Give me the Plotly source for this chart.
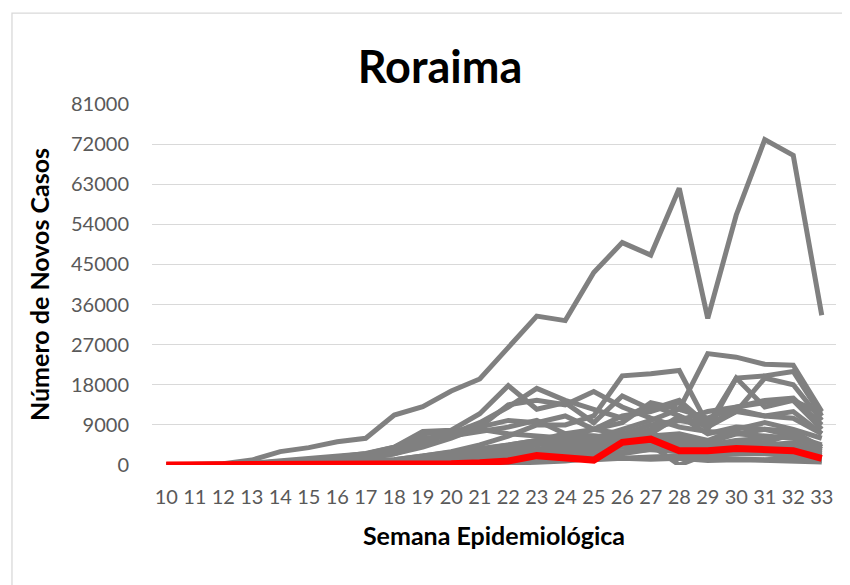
import plotly.graph_objects as go

semanas = list(range(10, 34))

# novos casos por semana epidemiológica (semanas 10 a 33), demais estados em cinza
SP = [0, 50, 300, 1100, 3000, 3900, 5200, 6000, 11200, 13100, 16600, 19300, 26500, 33400, 32400, 43200, 49900, 47100, 62100, 32900, 56100, 73000, 69500, 33600]
RJ = [0, 20, 150, 400, 900, 1500, 2000, 2500, 4000, 7500, 7800, 11500, 17800, 12500, 14000, 9500, 15500, 12500, 14500, 9000, 12500, 11000, 12000, 7000]
CE = [0, 10, 150, 350, 700, 1000, 1600, 2200, 3000, 5500, 7000, 9500, 13000, 17200, 14500, 12500, 10500, 13500, 11000, 7000, 8500, 8000, 7500, 4000]
BA = [0, 5, 40, 100, 200, 300, 500, 800, 1200, 2000, 3000, 4500, 6500, 9000, 9000, 11000, 20000, 20500, 21200, 9000, 19500, 20000, 21000, 11000]
MG = [0, 10, 50, 100, 200, 250, 350, 500, 700, 1000, 1500, 2500, 3500, 5000, 6500, 8000, 9500, 14000, 12500, 25000, 24200, 22600, 22400, 12000]
PA = [0, 0, 20, 80, 200, 400, 800, 1400, 2500, 4500, 7500, 8500, 13500, 14500, 13500, 16500, 13000, 10500, 8500, 7500, 7000, 8000, 6500, 4500]
AM = [0, 0, 50, 150, 500, 1000, 1800, 2600, 4000, 7000, 7500, 8000, 7000, 6500, 6000, 4500, 5000, 4000, 3500, 3000, 2500, 3000, 3500, 2500]
PE = [0, 10, 30, 80, 300, 700, 1200, 2000, 3500, 6000, 6500, 7500, 8500, 10000, 7000, 6500, 6000, 5500, 6000, 3000, 5500, 5000, 7000, 3500]
MA = [0, 0, 10, 50, 150, 300, 800, 1500, 2500, 4000, 6000, 8500, 10000, 9500, 11000, 8000, 7000, 6000, 5500, 4000, 4500, 4000, 3500, 2500]
GO = [0, 5, 20, 50, 80, 100, 150, 200, 300, 500, 800, 1200, 2000, 3000, 4500, 6000, 8000, 10000, 12500, 10500, 13000, 14500, 15000, 9000]
DF = [0, 10, 50, 150, 200, 300, 400, 500, 700, 1000, 1500, 2500, 3500, 5000, 7000, 8000, 11000, 12000, 14000, 8000, 19500, 13000, 14500, 8000]
ES = [0, 5, 20, 60, 150, 250, 400, 700, 1200, 2000, 2800, 3500, 4500, 5500, 6000, 6500, 6000, 5800, 6500, 5000, 7000, 6500, 6000, 4000]
PR = [0, 5, 30, 60, 100, 150, 200, 250, 300, 400, 600, 900, 1500, 2500, 3500, 5500, 7000, 9000, 10000, 12000, 13000, 14000, 14500, 11500]
RS = [0, 5, 20, 60, 100, 150, 200, 300, 400, 600, 800, 1200, 1500, 2500, 3000, 4500, 6000, 8000, 10000, 9000, 12000, 19500, 18000, 10000]
SC = [0, 10, 50, 80, 100, 150, 200, 300, 400, 500, 700, 900, 1500, 2500, 3000, 4000, 6000, 7000, 11000, 8500, 12000, 11000, 10500, 7000]
PB = [0, 0, 5, 20, 50, 150, 300, 600, 1000, 1800, 2800, 3500, 4500, 5500, 7000, 6000, 6500, 5500, 6500, 4500, 5000, 4000, 4000, 2500]
RN = [0, 0, 10, 30, 80, 150, 300, 500, 800, 1200, 1800, 2500, 3500, 4500, 5500, 5000, 6000, 4500, 0, 2500, 3500, 3000, 3000, 2000]
AL = [0, 0, 5, 20, 40, 80, 200, 400, 800, 1500, 2200, 3000, 4000, 5000, 4500, 5000, 4500, 3500, 3000, 2000, 2500, 2500, 2000, 1500]
SE = [0, 0, 5, 10, 30, 60, 100, 200, 400, 800, 1200, 1800, 2500, 3500, 4500, 5500, 5000, 4500, 4000, 3000, 3500, 3500, 3000, 2000]
PI = [0, 0, 5, 10, 30, 60, 100, 200, 400, 700, 1000, 1500, 2500, 3500, 4000, 4500, 5000, 6000, 5500, 4000, 5000, 4500, 5000, 3000]
MT = [0, 0, 5, 10, 20, 30, 50, 80, 150, 300, 500, 700, 1000, 1500, 2500, 3500, 5000, 6500, 7000, 5500, 8000, 9500, 8000, 6000]
MS = [0, 0, 5, 10, 20, 30, 50, 80, 100, 150, 200, 300, 400, 600, 900, 1500, 2500, 3500, 4000, 4500, 5500, 6000, 6500, 4000]
RO = [0, 0, 5, 10, 20, 40, 80, 150, 300, 500, 800, 1200, 1800, 2500, 3000, 3500, 4000, 4500, 5000, 3500, 4000, 3500, 3000, 2000]
TO = [0, 0, 0, 5, 10, 20, 40, 80, 150, 250, 400, 700, 1000, 1500, 2000, 2500, 3000, 3500, 3000, 2500, 3000, 3500, 3000, 2000]
AP = [0, 0, 5, 20, 50, 100, 200, 400, 800, 1200, 1800, 2500, 3500, 3000, 2500, 2000, 1500, 1800, 2000, 1500, 1300, 1200, 1500, 1000]
AC = [0, 0, 5, 10, 30, 50, 100, 200, 300, 500, 700, 1000, 1500, 1800, 1500, 1200, 1500, 1300, 1500, 1000, 1200, 1000, 1000, 700]

# Roraima em destaque
RR = [0, 0, 5, 10, 20, 40, 60, 80, 120, 200, 300, 500, 900, 2100, 1700, 1100, 5100, 5800, 3200, 3200, 3700, 3400, 3200, 1500]

outros = {'SP': SP, 'RJ': RJ, 'CE': CE, 'BA': BA, 'MG': MG, 'PA': PA, 'AM': AM,
          'PE': PE, 'MA': MA, 'GO': GO, 'DF': DF, 'ES': ES, 'PR': PR, 'RS': RS,
          'SC': SC, 'PB': PB, 'RN': RN, 'AL': AL, 'SE': SE, 'PI': PI, 'MT': MT,
          'MS': MS, 'RO': RO, 'TO': TO, 'AP': AP, 'AC': AC}

fig = go.Figure()
for uf, casos in outros.items():
    fig.add_trace(go.Scatter(x=semanas, y=casos, name=uf, mode='lines',
                             line=dict(color='#808080', width=5)))
fig.add_trace(go.Scatter(x=semanas, y=RR, name='RR', mode='lines',
                         line=dict(color='#ff0000', width=7)))

# a página tem 8px de margem no body, por isso o figure é 8px menor
fonte = 'Lato'
fig.update_layout(
    width=842, height=577,
    margin=dict(l=144, r=14, t=96, b=120),
    paper_bgcolor='white', plot_bgcolor='white',
    showlegend=False,
    font=dict(family=fonte, color='#595959'),
    title=dict(text='<b>Roraima</b>', x=0.513, xanchor='center', y=0.897, yanchor='middle',
               font=dict(family=fonte, size=45, color='black')),
    xaxis=dict(type='linear', range=[9.5, 33.5], tickmode='array', tickvals=semanas,
               ticktext=[str(s) for s in semanas], showgrid=False, zeroline=False,
               showline=False, ticks='', ticklabelstandoff=18,
               tickfont=dict(size=20, color='#595959'),
               title=dict(text='<b>Semana Epidemiológica</b>', standoff=20,
                          font=dict(size=25, color='black'))),
    yaxis=dict(range=[0, 81000], tickmode='linear', tick0=0, dtick=9000,
               showgrid=True, gridcolor='#d9d9d9', gridwidth=1.3, zeroline=False,
               showline=False, ticks='', ticklabelstandoff=22, tickformat='d',
               tickfont=dict(size=20, color='#595959'),
               title=dict(text='<b>Número de Novos Casos</b>', standoff=14,
                          font=dict(size=25, color='black'))),
    shapes=[dict(type='rect', xref='paper', yref='paper',
                 x0=-0.2047, x1=1.5, y0=-1.0, y1=1.252,
                 line=dict(color='#d9d9d9', width=1.3), layer='below')],
)

fig.write_html('out.html')
